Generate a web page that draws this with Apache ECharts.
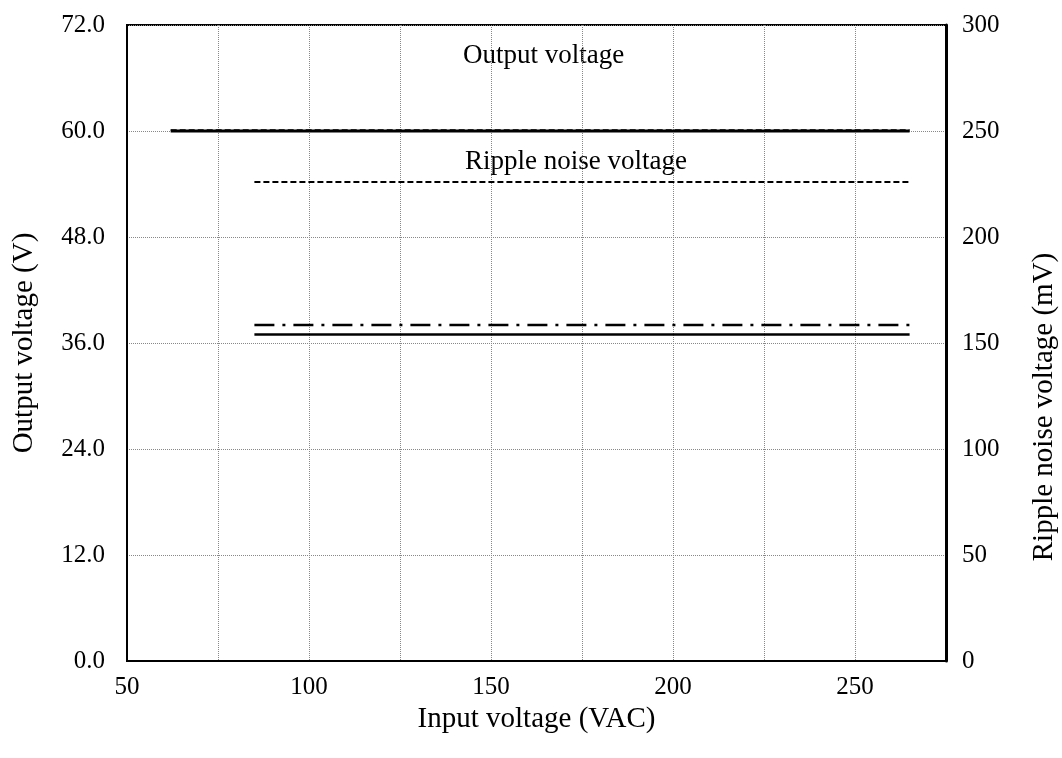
<!DOCTYPE html>
<html>
<head>
<meta charset="utf-8">
<script src="https://cdn.jsdelivr.net/npm/echarts@6/dist/echarts.min.js"></script>
<style>
  html, body { margin: 0; padding: 0; background: #fff; }
  #chart { width: 1062px; height: 758px; }
</style>
</head>
<body>
<div id="chart"></div>
<script>
// input voltage (VAC) where each curve was measured
const outInputV = [62, 265]
const rippleInputV = [85, 265]

// output voltage (V), left axis
const outVoltSolid = [60.0, 60.0]
const outVoltDashed = [60.1, 60.1]

// ripple noise voltage (mV), right axis
const rippleDashed = [226, 226]
const rippleDashDot = [158.5, 158.5]
const rippleSolid = [154, 154]

const FONT = '"Liberation Serif", "Times New Roman", serif'

function pairs(xs, ys) {
  return xs.map((x, i) => [x, ys[i]])
}

const chart = echarts.init(document.getElementById('chart'))

const gridLine = { show: true, lineStyle: { color: '#888', type: [1, 1], width: 1 } }
const tickFont = { fontFamily: FONT, fontSize: 25, color: '#000' }
const nameFont = { fontFamily: FONT, fontSize: 29, color: '#000' }

chart.setOption({
  animation: false,
  backgroundColor: '#fff',
  grid: {
    left: 127, right: 116, top: 25, bottom: 97,
    outerBoundsMode: 'none', containLabel: false,
    show: true, borderColor: '#000', borderWidth: 2
  },
  xAxis: {
    type: 'value',
    min: 50, max: 275, interval: 25,
    name: 'Input voltage (VAC)',
    nameLocation: 'middle',
    nameGap: 43,
    nameTextStyle: nameFont,
    axisLine: { lineStyle: { color: '#000', width: 2 } },
    axisTick: { show: false },
    axisLabel: Object.assign({}, tickFont, {
      margin: 14,
      formatter: v => (v % 50 === 0 ? String(v) : '')
    }),
    splitLine: gridLine
  },
  yAxis: [
    {
      type: 'value',
      min: 0, max: 72, interval: 12,
      name: 'Output voltage (V)',
      nameLocation: 'middle',
      nameGap: 88,
      nameTextStyle: nameFont,
      axisLine: { show: true, lineStyle: { color: '#000', width: 2 } },
      axisTick: { show: false },
      axisLabel: Object.assign({}, tickFont, { margin: 22, formatter: v => v.toFixed(1) }),
      splitLine: gridLine
    },
    {
      type: 'value',
      min: 0, max: 300, interval: 50,
      position: 'right',
      axisLine: { show: true, lineStyle: { color: '#000', width: 3 } },
      axisTick: { show: false },
      axisLabel: Object.assign({}, tickFont, { margin: 16 }),
      splitLine: { show: false }
    }
  ],
  graphic: [
    { type: 'text', left: 463, top: 42, style: { text: 'Output voltage', font: '27px ' + FONT, fill: '#000' } },
    { type: 'text', left: 465, top: 148, style: { text: 'Ripple noise voltage', font: '27px ' + FONT, fill: '#000' } },
    {
      type: 'text', x: 1044, y: 407, rotation: Math.PI / 2,
      style: { text: 'Ripple noise voltage (mV)', font: '29px ' + FONT, fill: '#000', align: 'center', verticalAlign: 'middle' }
    }
  ],
  series: [
    {
      type: 'line', yAxisIndex: 0, data: pairs(outInputV, outVoltDashed),
      symbol: 'none', lineStyle: { color: '#000', width: 1.5, type: [6, 3] }
    },
    {
      type: 'line', yAxisIndex: 0, data: pairs(outInputV, outVoltSolid),
      symbol: 'none', lineStyle: { color: '#000', width: 3 }
    },
    {
      type: 'line', yAxisIndex: 1, data: pairs(rippleInputV, rippleDashed),
      symbol: 'none', lineStyle: { color: '#000', width: 2, type: [6, 3] }
    },
    {
      type: 'line', yAxisIndex: 1, data: pairs(rippleInputV, rippleDashDot),
      symbol: 'none', lineStyle: { color: '#000', width: 2.5, type: [20, 8, 3, 8] }
    },
    {
      type: 'line', yAxisIndex: 1, data: pairs(rippleInputV, rippleSolid),
      symbol: 'none', lineStyle: { color: '#000', width: 2.5 }
    }
  ]
})
</script>
</body>
</html>
